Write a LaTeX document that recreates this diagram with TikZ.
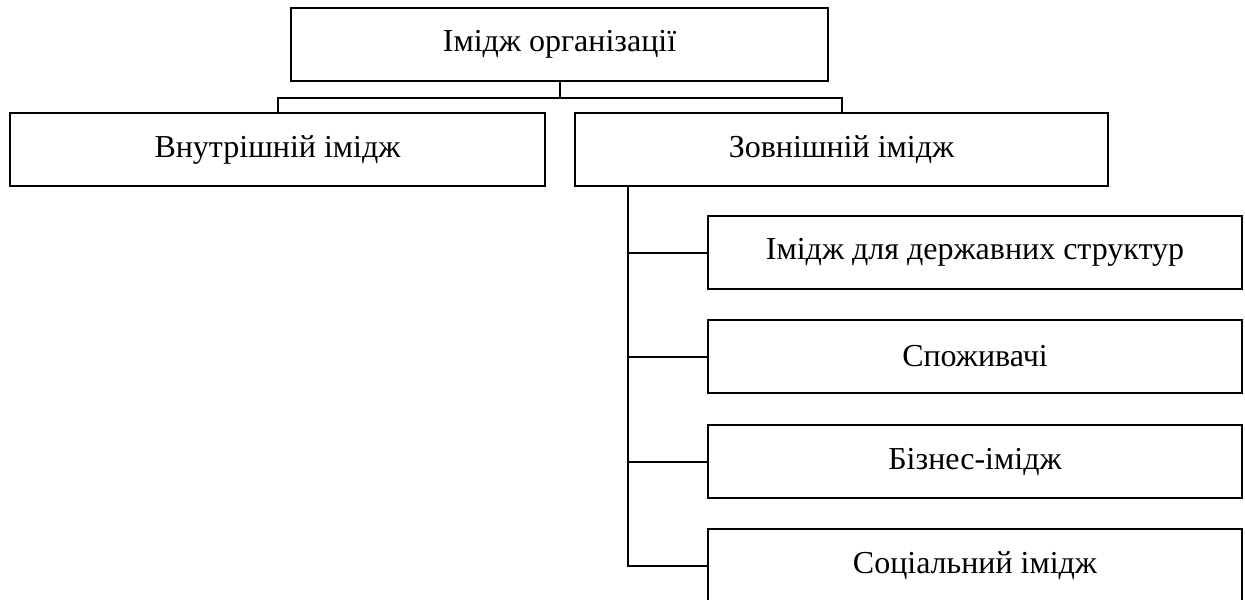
\documentclass[tikz,border=0pt]{standalone}
\usepackage{fontspec}
\setmainfont{Liberation Serif}
\tikzset{
  box/.style={draw, line width=1pt, minimum height=36.5pt, inner sep=0pt,
    font=\fontsize{16}{19}\selectfont},
  link/.style={line width=1pt},
}
\begin{document}
\begin{tikzpicture}[x=0.5pt,y=-0.5pt]
\useasboundingbox (0,0) rectangle (1245,599);
\node[box, minimum width=268.5pt] (org) at (559.5,44.5) {Імідж організації};
\node[box, minimum width=267.5pt] (inner) at (277.5,149.5) {Внутрішній імідж};
\node[box, minimum width=266.5pt] (outer) at (841.5,149.5) {Зовнішній імідж};
\coordinate (bus) at (559.5,98);
\draw[link] (org.south) -- (bus);
\draw[link] (inner.north) |- (bus) -| (outer.north);
% kinds of outer image
\foreach \i/\y/\txt in {1/252.5/Імідж для державних структур, 2/356.5/Споживачі,
    3/461.5/Бізнес-імідж, 4/565.5/Соціальний імідж} {
  \node[box, minimum width=267pt] (s\i) at (975,\y) {\txt};
}
\coordinate (spine) at (628,186);
\draw[link] (outer.south -| spine) |- (s4.west);
\foreach \i in {1,2,3} {
  \draw[link] (spine |- s\i.west) -- (s\i.west);
}
\end{tikzpicture}
\end{document}
